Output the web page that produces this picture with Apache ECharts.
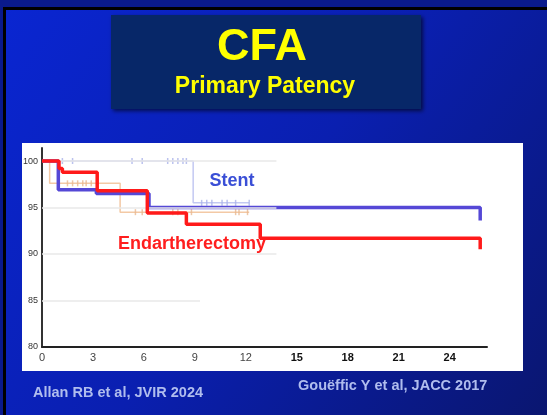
<!DOCTYPE html>
<html>
<head>
<meta charset="utf-8">
<script src="https://cdn.jsdelivr.net/npm/echarts@6/dist/echarts.min.js"></script>
<style>
  html, body { margin: 0; padding: 0; }
  #chart { width: 547px; height: 415px; }
</style>
</head>
<body>
<div id="chart"></div>
<script>
// Kaplan-Meier steps, [month, % patent]
const stentKM = [[0, 100], [0.96, 96.9], [3.2, 96.5], [6.3, 95.0], [25.8, 95.0], [25.8, 93.6]];
const endartKM = [[0, 100], [1.0, 99.2], [1.2, 98.8], [3.25, 96.8], [6.2, 94.4], [8.5, 93.2], [12.85, 91.7], [25.8, 91.7], [25.8, 90.5]];
// faded curves of the underlying figure
const fadedBlueKM = [[0, 100], [8.9, 95.5], [12.2, 95.5]];
const fadedTanKM = [[0, 100], [0.45, 97.6], [4.6, 94.5], [12.2, 94.5]];
const fadedBlueCensor = [[1.2, 100], [1.8, 100], [5.3, 100], [5.9, 100], [7.4, 100], [7.7, 100], [8.0, 100], [8.3, 100], [8.5, 100],
  [9.4, 95.5], [9.7, 95.5], [10.0, 95.5], [10.6, 95.5], [10.9, 95.5], [11.4, 95.5], [12.2, 95.5]];
const fadedTanCensor = [[1.5, 97.6], [1.8, 97.6], [2.1, 97.6], [2.4, 97.6], [2.6, 97.6], [2.9, 97.6],
  [5.5, 94.5], [5.9, 94.5], [7.7, 94.5], [8.0, 94.5], [8.8, 94.5], [11.4, 94.5], [11.6, 94.5], [12.1, 94.5]];
const yTicks = [80, 85, 90, 95, 100];
const xTicks = [0, 3, 6, 9, 12, 15, 18, 21, 24];

const chart = echarts.init(document.getElementById('chart'));
const font = '"Liberation Sans", Arial, sans-serif';

const gridLines = yTicks.filter(v => v > 80).map(v => [
  { coord: [0, v] },
  { coord: [v === 85 ? 9.3 : 13.8, v] }
]);

chart.setOption({
  animation: false,
  graphic: [
    {
      type: 'rect', z: -10, shape: { x: 0, y: 0, width: 547, height: 415 },
      style: { fill: new echarts.graphic.LinearGradient(0, 0, 1, 1, [
        { offset: 0, color: '#0a26d2' },
        { offset: 0.5, color: '#0a1fb0' },
        { offset: 1, color: '#0a1670' }
      ]) }
    },
    { type: 'rect', z: -9, shape: { x: 0, y: 0, width: 547, height: 7 }, style: { fill: '#0a1a8c' } },
    { type: 'rect', z: -9, shape: { x: 0, y: 0, width: 3, height: 415 }, style: { fill: '#0a1a8c' } },
    { type: 'rect', z: -8, shape: { x: 3, y: 7, width: 544, height: 3 }, style: { fill: '#000' } },
    { type: 'rect', z: -8, shape: { x: 3, y: 7, width: 3, height: 408 }, style: { fill: '#000' } },
    {
      type: 'rect', z: -5, shape: { x: 111, y: 15, width: 310, height: 94 },
      style: { fill: '#072768', shadowBlur: 4, shadowOffsetX: 2, shadowOffsetY: 2, shadowColor: 'rgba(0,0,0,0.6)' }
    },
    {
      type: 'text', z: 5, x: 262, y: 48,
      style: { text: 'CFA', font: 'bold 45px ' + font, fill: '#ffff00', textAlign: 'center', textVerticalAlign: 'middle' }
    },
    {
      type: 'text', z: 5, x: 265, y: 87,
      style: { text: 'Primary Patency', font: 'bold 23px ' + font, fill: '#ffff00', textAlign: 'center', textVerticalAlign: 'middle' }
    },
    { type: 'rect', z: -5, shape: { x: 22, y: 143, width: 501, height: 228 }, style: { fill: '#ffffff' } },
    {
      type: 'text', z: 5, x: 232, y: 181,
      style: { text: 'Stent', font: 'bold 18px ' + font, fill: '#3a4fd6', textAlign: 'center', textVerticalAlign: 'middle' }
    },
    {
      type: 'text', z: 5, x: 192, y: 244,
      style: { text: 'Endartherectomy', font: 'bold 18px ' + font, fill: '#ff1e1e', textAlign: 'center', textVerticalAlign: 'middle' }
    },
    {
      type: 'text', z: 5, x: 33, y: 393,
      style: { text: 'Allan RB et al, JVIR 2024', font: 'bold 14.5px ' + font, fill: '#b0bdee', textAlign: 'left', textVerticalAlign: 'middle' }
    },
    {
      type: 'text', z: 5, x: 298, y: 386,
      style: { text: 'Gouëffic Y et al, JACC 2017', font: 'bold 14.5px ' + font, fill: '#b0bdee', textAlign: 'left', textVerticalAlign: 'middle' }
    }
  ],
  grid: { left: 42, top: 148, width: 445, height: 199, containLabel: false },
  xAxis: {
    type: 'value', min: 0, max: 26.2, interval: 3,
    splitLine: { show: false },
    axisTick: { show: false },
    axisLine: { lineStyle: { color: '#222', width: 2 } },
    axisLabel: {
      margin: 5,
      formatter: v => xTicks.includes(v) ? (v <= 12 ? '{l|' + v + '}' : '{r|' + v + '}') : '',
      rich: {
        l: { fontFamily: font, fontSize: 11, color: '#444' },
        r: { fontFamily: font, fontSize: 11, color: '#111', fontWeight: 'bold' }
      }
    }
  },
  yAxis: {
    type: 'value', min: 80, max: 101.4, interval: 5,
    splitLine: { show: false },
    axisTick: { show: false },
    axisLine: { show: true, lineStyle: { color: '#333', width: 2 } },
    axisLabel: {
      margin: 4, fontFamily: font, fontSize: 9, color: '#333',
      formatter: v => yTicks.includes(v) ? String(v) : ''
    }
  },
  series: [
    {
      type: 'line', data: [], silent: true,
      markLine: { symbol: 'none', silent: true, label: { show: false },
        lineStyle: { color: '#e8e8e8', width: 1.5, type: 'solid' }, data: gridLines }
    },
    { type: 'line', step: 'end', data: fadedBlueKM, symbol: 'none', z: 3, lineStyle: { color: '#c3c9f2', width: 1.5 } },
    { type: 'line', step: 'end', data: fadedTanKM, symbol: 'none', z: 3, lineStyle: { color: '#f3c9a5', width: 1.5 } },
    { type: 'scatter', data: fadedBlueCensor, symbol: 'rect', symbolSize: [1.5, 6], z: 3, itemStyle: { color: '#aab3ea' } },
    { type: 'scatter', data: fadedTanCensor, symbol: 'rect', symbolSize: [1.5, 6], z: 3, itemStyle: { color: '#e8b890' } },
    { type: 'line', step: 'end', data: stentKM, symbol: 'none', z: 4, lineStyle: { color: '#5548d6', width: 3.5 } },
    { type: 'line', step: 'end', data: endartKM, symbol: 'none', z: 5, lineStyle: { color: '#ff1a1a', width: 3.5 } }
  ]
});
</script>
</body>
</html>
